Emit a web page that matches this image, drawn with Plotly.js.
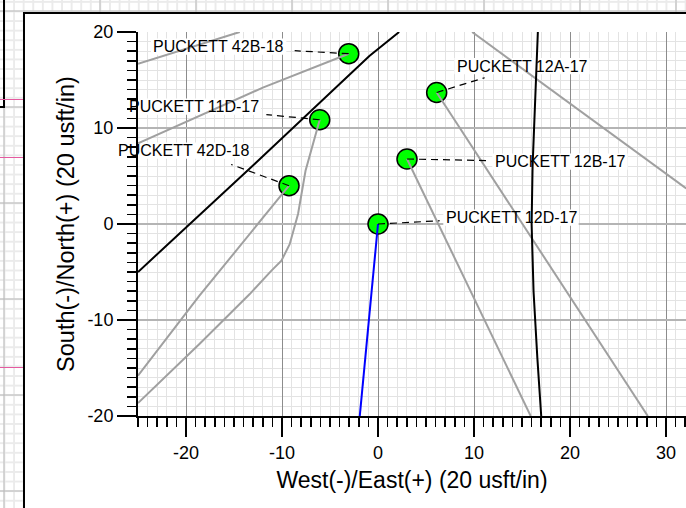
<!DOCTYPE html>
<html>
<head>
<meta charset="utf-8">
<script src="https://cdn.plot.ly/plotly-3.0.1.min.js"></script>
<style>
  html, body { margin:0; padding:0; width:686px; height:508px; overflow:hidden; }
  body {
    background-color:#ffffff;
    background-image:
      linear-gradient(to right, #b8b8b8 1.5px, transparent 1.5px),
      linear-gradient(to bottom, #b8b8b8 1.5px, transparent 1.5px),
      linear-gradient(to right, #ebebeb 1.5px, transparent 1.5px),
      linear-gradient(to bottom, #ebebeb 1.5px, transparent 1.5px);
    background-size: 96px 96px, 96px 96px, 9.6px 9.6px, 9.6px 9.6px;
    background-position: 3.5px 10.5px, 3.5px 10.5px, 3.5px 10.5px, 3.5px 10.5px;
  }
  #box { position:absolute; left:-10px; top:-10px; width:12.5px; height:115.5px; border-right:2px solid #000; border-bottom:2px solid #000; }
  .pink { position:absolute; left:0; width:23px; height:1.5px; background:#e65aa0; }
  #frame { position:absolute; left:23px; top:12px; width:700px; height:600px; border-left:2.5px solid #000; border-top:2.5px solid #000; background:#fff; }
  #chart { position:absolute; left:0; top:0; width:686px; height:508px; }
</style>
</head>
<body>
<div id="box"></div>
<div class="pink" style="top:98.5px"></div>
<div class="pink" style="top:156.5px"></div>
<div class="pink" style="top:366.5px"></div>
<div id="frame"></div>
<div id="chart"></div>
<script>
// ---- data ----
const wellNames = ['PUCKETT 42B-18','PUCKETT 12A-17','PUCKETT 11D-17','PUCKETT 42D-18','PUCKETT 12B-17','PUCKETT 12D-17'];
const wellX = [-3.05, 6.11, -6.07, -9.27, 3.02, 0];
const wellY = [17.74, 13.7, 10.86, 3.99, 6.77, 0];
// right end of each label text, and its vertical centre
const labelRightX = [-9.65, 21.95, -12.3, -13.37, 25.9, 20.8];
const labelY = [18.47, 16.44, 12.22, 7.64, 6.49, 0.66];
const leaderEndX = [-8.68, 11.11, -11.63, -15.3, 11.64, 6.43];
const leaderEndY = [18.05, 15.24, 11.39, 6.2, 6.6, 0.34];

const offsetPaths = [
  {x: [-25, -14.4], y: [16.7, 20]},
  {x: [-25, -12, -3.05], y: [8.4, 14.2, 17.74]},
  {x: [-9.27, -13.9, -18.6, -25], y: [3.99, -1.7, -7.47, -15.8]},
  {x: [-6.07, -7.55, -8.33, -9.2, -10.06, -11.1, -13.36, -18.6, -25], y: [10.86, 5.55, 1.04, -2.1, -3.82, -4.86, -7.3, -12.5, -18.65]},
  {x: [3.02, 15.9], y: [6.77, -20]},
  {x: [6.11, 28.1], y: [13.7, -20]},
  {x: [9.8, 32.1], y: [20, 3.7]}
];
const leaseLineA = {x: [-25, -12.8, -0.9, 2.2], y: [-5, 6.3, 17.5, 20]};
const leaseLineB = {x: [16.65, 16.35, 16.1, 16.0, 16.2, 16.6, 17.0], y: [20, 13, 6, 0, -7, -14, -20]};
const planX = [0, -1.9];
const planY = [0, -20];

const xTicks = [-20, -10, 0, 10, 20, 30];
const yTicks = [-20, -10, 0, 10, 20];

// ---- traces ----
const FONT = 'Arial, "Liberation Sans", sans-serif';
const traces = [];
traces.push({
  x: wellX, y: wellY, mode: 'markers', type: 'scatter', hoverinfo: 'skip',
  marker: {size: 20, color: '#00ff00', line: {color: '#000', width: 1.5}}
});
offsetPaths.forEach(p => traces.push({
  x: p.x, y: p.y, mode: 'lines', type: 'scatter', hoverinfo: 'skip',
  line: {color: '#a0a0a0', width: 2}
}));
[leaseLineA, leaseLineB].forEach(p => traces.push({
  x: p.x, y: p.y, mode: 'lines', type: 'scatter', hoverinfo: 'skip',
  line: {color: '#000', width: 2}
}));
traces.push({x: planX, y: planY, mode: 'lines', type: 'scatter', hoverinfo: 'skip', line: {color: '#0000ff', width: 2}});
wellX.forEach((wx, i) => traces.push({
  x: [wx, leaderEndX[i]], y: [wellY[i], leaderEndY[i]], mode: 'lines', type: 'scatter', hoverinfo: 'skip',
  line: {color: '#000', width: 1.2, dash: '7px,5px'}
}));

const annotations = wellNames.map((n, i) => ({
  x: labelRightX[i], y: labelY[i], xref: 'x', yref: 'y', text: n, showarrow: false,
  xanchor: 'right', yanchor: 'middle', borderpad: 0,
  font: {family: FONT, size: 16, color: '#000'}
}));
const shapes = wellNames.map((n, i) => ({
  type: 'rect', xref: 'x', yref: 'y', layer: 'between',
  x0: labelRightX[i] - 14.0, x1: labelRightX[i] + 0.1, y0: labelY[i] - 0.85, y1: labelY[i] + 0.85,
  fillcolor: '#ffffff', line: {width: 0}
}));

const axisCommon = {
  showline: true, linecolor: '#000', linewidth: 2,
  ticks: 'outside', ticklen: 19, tickwidth: 2, tickcolor: '#000',
  tickfont: {family: FONT, size: 18, color: '#000'},
  zeroline: false, automargin: false, fixedrange: true,
  minor: {dtick: 1, tick0: 0, ticks: 'outside', ticklen: 9, tickwidth: 1.5, tickcolor: '#000',
          showgrid: true, gridcolor: '#e3e3e3', gridwidth: 1}
};

const layout = {
  width: 686, height: 508,
  margin: {l: 138, r: 0, t: 32, b: 92},
  paper_bgcolor: 'rgba(0,0,0,0)', plot_bgcolor: '#ffffff',
  showlegend: false,
  xaxis: Object.assign({}, axisCommon, {
    range: [-25, 32.08], tickmode: 'array', tickvals: xTicks, ticktext: xTicks.map(String),
    showgrid: true, gridcolor: '#8c8c8c', gridwidth: 1,
    title: {text: 'West(-)/East(+) (20 usft/in)', font: {family: FONT, size: 23, color: '#000'}, standoff: 10}
  }),
  yaxis: Object.assign({}, axisCommon, {
    range: [-20, 20], tickmode: 'array', tickvals: yTicks, ticktext: yTicks.map(String),
    showgrid: true, gridcolor: '#b4b4b4', gridwidth: 2,
    title: {text: 'South(-)/North(+) (20 usft/in)', font: {family: FONT, size: 23.5, color: '#000'}, standoff: 6}
  }),
  annotations: annotations,
  shapes: shapes
};

Plotly.newPlot('chart', traces, layout, {displayModeBar: false, staticPlot: true});
</script>
</body>
</html>
